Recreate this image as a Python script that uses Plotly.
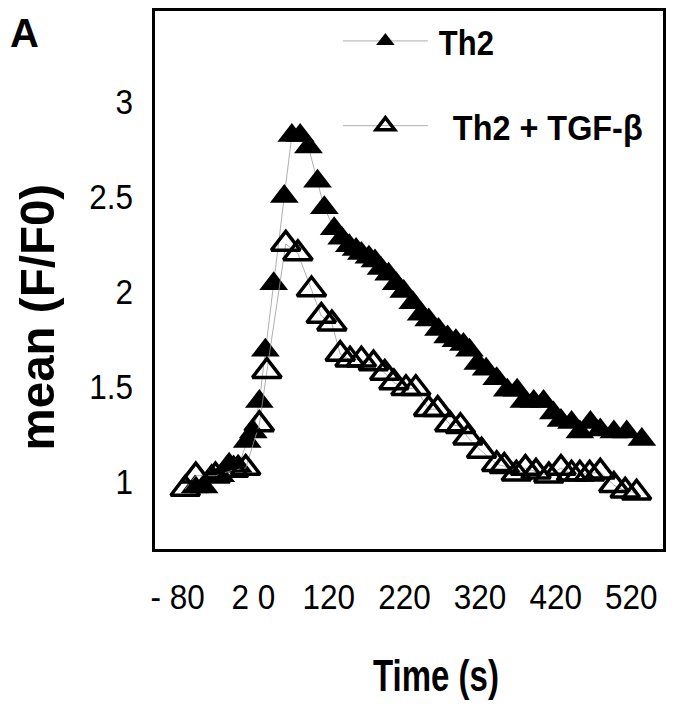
import plotly.graph_objects as go

# Th2 (filled triangles) - time (s) read against the printed tick labels
th2_t = [-57, -45, -35, -23, -12, -0, 12, 20, 28, 36, 47, 61, 71, 82, 93, 105, 114,
         127, 137, 147, 156, 163, 173, 181, 189, 199, 209, 219, 231, 242, 252, 265,
         277, 288, 298, 306, 317, 328, 342, 356, 369, 378, 391, 404, 417, 427, 441,
         452, 466, 479, 497, 514, 534]
th2_y = [0.97, 0.97, 1.03, 1.03, 1.09, 1.08, 1.21, 1.26, 1.42, 1.69, 2.04, 2.50,
         2.82, 2.82, 2.76, 2.58, 2.44, 2.33, 2.28, 2.24, 2.22, 2.20, 2.18, 2.16,
         2.12, 2.09, 2.04, 2.00, 1.94, 1.88, 1.85, 1.80, 1.76, 1.74, 1.72, 1.69,
         1.62, 1.59, 1.54, 1.48, 1.48, 1.42, 1.42, 1.42, 1.36, 1.32, 1.31, 1.26,
         1.31, 1.27, 1.26, 1.26, 1.22]

# Th2 + TGF-beta (open triangles)
tgf_t = [-70, -56, -30, -6, 10, 28, 38, 63, 79, 97, 110, 124, 135, 148, 163, 179,
         194, 206, 222, 235, 252, 264, 280, 294, 304, 322, 342, 352, 368, 380, 394,
         411, 427, 441, 452, 465, 479, 497, 512, 527]
tgf_y = [0.96, 1.03, 1.03, 1.06, 1.07, 1.30, 1.58, 2.25, 2.20, 2.01, 1.87, 1.83,
         1.67, 1.64, 1.64, 1.62, 1.57, 1.52, 1.49, 1.49, 1.38, 1.38, 1.30, 1.29,
         1.23, 1.16, 1.09, 1.08, 1.04, 1.07, 1.05, 1.03, 1.07, 1.04, 1.04, 1.04,
         1.05, 0.98, 0.95, 0.94]

x_tickvals = [-80, 20, 120, 220, 320, 420, 520]
x_ticktext = ["- 80", "2 0", "120", "220", "320", "420", "520"]
y_tickvals = [1, 1.5, 2, 2.5, 3]
y_ticktext = ["1", "1.5", "2", "2.5", "3"]

SANS = "Liberation Sans, Arial, Helvetica, sans-serif"

fig = go.Figure()
fig.add_trace(go.Scatter(
    x=th2_t, y=th2_y, name="<b>Th2</b>", mode="lines+markers",
    legendgroup="a",
    line=dict(color="#9a9a9a", width=0.8),
    marker=dict(symbol="triangle-up", size=25, color="black",
                line=dict(color="black", width=0)),
))
fig.add_trace(go.Scatter(
    x=tgf_t, y=tgf_y, name="<b>Th2 + TGF-β</b>", mode="lines+markers",
    legendgroup="b",
    line=dict(color="#9a9a9a", width=0.8),
    marker=dict(symbol="triangle-up-open", size=25, color="black",
                line=dict(color="black", width=3.5)),
))

fig.update_layout(
    width=689, height=719,
    margin=dict(l=147, r=34, t=0, b=178),
    paper_bgcolor="white", plot_bgcolor="white",
    showlegend=True,
    legend=dict(x=0.36, y=1.0, xanchor="left", yanchor="top",
                font=dict(family=SANS, size=36, color="black"),
                bgcolor="rgba(0,0,0,0)", itemwidth=85, tracegroupgap=35),
    xaxis=dict(range=[-110, 562], tickvals=x_tickvals, ticktext=x_ticktext,
               showgrid=False, zeroline=False, showline=True, mirror=True,
               linecolor="black", linewidth=3, ticks="",
               ticklabelstandoff=15,
               tickfont=dict(family=SANS, size=35, color="black")),
    yaxis=dict(range=[0.644, 3.476], tickvals=y_tickvals, ticktext=y_ticktext,
               showgrid=False, zeroline=False, showline=True, mirror=True,
               linecolor="black", linewidth=3, ticks="",
               ticklabelstandoff=12,
               tickfont=dict(family=SANS, size=35, color="black")),
)
# index 0: x title, 1: y title, 2: panel letter
fig.add_annotation(text="<b>Time (s)</b>", x=0.5, y=0, xref="paper", yref="paper",
                   xanchor="center", yanchor="middle", showarrow=False,
                   xshift=27, yshift=-126,
                   font=dict(family=SANS, size=44, color="black"))
fig.add_annotation(text="<b>mean (F/F0)</b>", x=0, y=0.43, xref="paper", yref="paper",
                   xanchor="center", yanchor="middle", showarrow=False,
                   textangle=-90, xshift=-118, borderpad=0,
                   font=dict(family=SANS, size=49, color="black"))
fig.add_annotation(text="<b>A</b>", x=0, y=1, xref="paper", yref="paper",
                   xanchor="left", yanchor="top", showarrow=False,
                   xshift=-146, yshift=1, borderpad=0,
                   font=dict(family=SANS, size=40, color="black"))

post = """
var gd = document.getElementById('{plot_id}');
function squeeze(els, s, mode, dx){
  els.forEach(function(el){
    var b = el.getBBox();
    var cx = mode==='left' ? b.x : (mode==='right' ? b.x + b.width : b.x + b.width/2);
    var t = el.getAttribute('transform') || '';
    el.setAttribute('transform', t + ' translate(' + (cx + (dx||0)) + ',0) scale(' + s + ',1) translate(' + (-cx) + ',0)');
  });
}
squeeze(gd.querySelectorAll('.xtick text'), 0.9, 'center');
squeeze(gd.querySelectorAll('.ytick text'), 0.9, 'right');
var lt = gd.querySelectorAll('.legendtext');
if (lt.length > 0) squeeze([lt[0]], 0.86, 'left', 6);
if (lt.length > 1) squeeze([lt[1]], 0.9, 'left', 20);
squeeze(gd.querySelectorAll('g.annotation[data-index="0"] text'), 0.75, 'center');
squeeze(gd.querySelectorAll('g.annotation[data-index="1"] text'), 0.97, 'center');
"""

fig.write_html("out.html", post_script=post)
